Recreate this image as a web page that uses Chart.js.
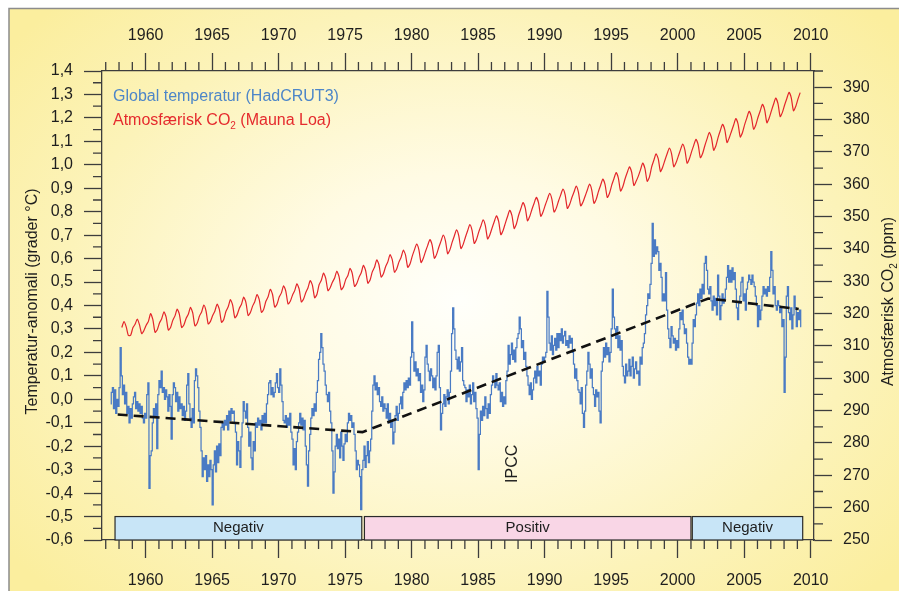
<!DOCTYPE html>
<html>
<head>
<meta charset="utf-8">
<title>Global temperatur og atmosfærisk CO2</title>
<script src="https://cdn.jsdelivr.net/npm/chart.js@4.4.1/dist/chart.umd.min.js"></script>
<style>
  html, body { margin: 0; padding: 0; background: #fff; }
  canvas { display: block; }
</style>
</head>
<body>
<canvas id="chart" width="899" height="591"></canvas>
<script>
// ---------------------------------------------------------------------------
// Data
// ---------------------------------------------------------------------------

// HadCRUT3 monthly anomaly (°C), one row per year, Jan..Dec
const TEMP_FIRST_YEAR = 1957;
const tempAnomaly = [
  [null, null, null, null, -0.02, 0.03, 0.05, -0.04, 0.04, -0.06, 0.00, -0.03], // 1957
  [0.05, 0.22, 0.10, 0.02, 0.06, -0.02, 0.03, -0.06, -0.03, -0.10, -0.04, -0.08],
  [-0.02, 0.01, 0.03, -0.04, -0.01, -0.05, -0.02, -0.06, -0.03, -0.08, -0.10, -0.06],
  [-0.08, 0.02, 0.07, -0.38, -0.24, -0.22, -0.10, -0.04, -0.07, -0.02, -0.21, 0.02], // 1960
  [0.08, 0.05, 0.12, 0.03, 0.05, 0.00, 0.04, 0.01, -0.05, 0.02, -0.03, -0.17],
  [0.02, 0.07, 0.05, -0.01, 0.03, -0.05, 0.01, -0.04, -0.02, -0.07, -0.03, -0.09],
  [-0.05, 0.06, 0.11, -0.02, -0.08, -0.12, -0.04, -0.10, 0.08, 0.13, 0.10, 0.05],
  [-0.05, -0.12, -0.22, -0.33, -0.25, -0.30, -0.24, -0.35, -0.28, -0.33, -0.26, -0.30],
  [-0.45, -0.28, -0.22, -0.31, -0.20, -0.27, -0.19, -0.24, -0.12, -0.10, -0.13, -0.09], // 1965
  [-0.11, -0.07, -0.13, -0.05, -0.09, -0.04, -0.06, -0.05, -0.10, -0.14, -0.28, -0.18],
  [-0.22, -0.29, -0.16, -0.10, -0.01, -0.05, -0.08, -0.02, -0.12, -0.20, -0.14, -0.25],
  [-0.30, -0.18, -0.22, -0.10, -0.12, -0.08, -0.11, -0.09, -0.13, -0.07, -0.10, -0.06],
  [-0.10, -0.02, 0.02, 0.07, 0.08, 0.02, 0.05, 0.01, 0.03, 0.07, 0.11, 0.05],
  [0.03, 0.13, 0.06, -0.01, -0.09, -0.10, -0.07, -0.12, -0.08, -0.11, -0.06, -0.14], // 1970
  [-0.17, -0.28, -0.21, -0.30, -0.18, -0.14, -0.10, -0.06, -0.11, -0.08, -0.13, -0.09],
  [-0.20, -0.28, -0.37, -0.22, -0.15, -0.08, -0.04, -0.07, -0.02, -0.05, 0.03, 0.08],
  [0.17, 0.20, 0.28, 0.22, 0.15, 0.12, 0.06, 0.02, -0.01, 0.03, -0.05, -0.10],
  [-0.22, -0.40, -0.31, -0.20, -0.15, -0.21, -0.17, -0.25, -0.14, -0.20, -0.26, -0.19],
  [-0.15, -0.18, -0.10, -0.06, -0.09, -0.07, -0.12, -0.10, -0.15, -0.22, -0.30, -0.26], // 1975
  [-0.28, -0.33, -0.47, -0.30, -0.26, -0.20, -0.29, -0.24, -0.18, -0.27, -0.22, -0.17],
  [-0.05, 0.06, 0.10, 0.04, 0.07, 0.02, 0.05, -0.01, -0.03, 0.01, -0.05, -0.02],
  [-0.04, -0.08, -0.02, -0.10, -0.06, -0.12, -0.09, -0.19, -0.14, -0.07, -0.03, -0.09],
  [-0.06, -0.02, 0.01, -0.04, 0.03, 0.07, 0.04, 0.08, 0.05, 0.09, 0.06, 0.18],
  [0.33, 0.20, 0.12, 0.16, 0.10, 0.13, 0.08, 0.11, 0.03, 0.06, -0.01, 0.04], // 1980
  [0.18, 0.23, 0.15, 0.12, 0.08, 0.13, 0.10, 0.05, 0.09, 0.04, 0.10, 0.20],
  [0.23, 0.05, -0.13, -0.06, -0.02, 0.02, -0.03, 0.01, 0.04, -0.02, 0.03, 0.12],
  [0.28, 0.39, 0.30, 0.21, 0.17, 0.13, 0.18, 0.12, 0.16, 0.22, 0.08, 0.06],
  [0.05, -0.01, 0.04, 0.01, 0.06, -0.02, 0.02, 0.07, -0.01, 0.03, -0.04, -0.08],
  [-0.30, -0.15, -0.05, -0.09, -0.03, -0.07, 0.01, -0.04, -0.08, -0.02, -0.06, 0.02], // 1985
  [0.06, 0.10, 0.08, 0.05, 0.11, 0.06, 0.04, 0.07, -0.01, 0.03, -0.03, 0.01],
  [-0.02, 0.08, 0.12, 0.23, 0.15, 0.19, 0.24, 0.17, 0.21, 0.16, 0.22, 0.26],
  [0.28, 0.35, 0.30, 0.22, 0.25, 0.17, 0.20, 0.14, 0.10, 0.06, 0.02, 0.07],
  [0.00, 0.04, 0.09, 0.12, 0.07, 0.14, 0.10, 0.12, 0.06, 0.15, 0.18, 0.16],
  [0.18, 0.20, 0.46, 0.35, 0.24, 0.21, 0.27, 0.19, 0.23, 0.26, 0.21, 0.28], // 1990
  [0.22, 0.28, 0.25, 0.30, 0.24, 0.27, 0.29, 0.23, 0.25, 0.22, 0.27, 0.24],
  [0.26, 0.20, 0.15, 0.09, 0.13, 0.08, 0.04, 0.03, -0.02, 0.05, -0.06, -0.12],
  [-0.05, 0.06, 0.12, 0.20, 0.15, 0.09, 0.13, 0.05, 0.02, -0.03, 0.04, 0.01],
  [0.03, -0.05, -0.10, 0.12, 0.16, 0.22, 0.18, 0.24, 0.19, 0.22, 0.16, 0.20],
  [0.30, 0.47, 0.35, 0.30, 0.26, 0.31, 0.22, 0.27, 0.21, 0.25, 0.14, 0.10], // 1995
  [0.07, 0.15, 0.10, 0.12, 0.17, 0.10, 0.14, 0.18, 0.09, 0.13, 0.16, 0.11],
  [0.12, 0.06, 0.18, 0.15, 0.22, 0.24, 0.28, 0.36, 0.40, 0.45, 0.43, 0.49],
  [0.58, 0.75, 0.61, 0.68, 0.62, 0.65, 0.63, 0.55, 0.58, 0.52, 0.42, 0.45],
  [0.42, 0.54, 0.38, 0.30, 0.26, 0.22, 0.31, 0.27, 0.24, 0.26, 0.21, 0.25],
  [0.22, 0.30, 0.37, 0.34, 0.38, 0.32, 0.28, 0.30, 0.24, 0.18, 0.15, 0.17], // 2000
  [0.15, 0.24, 0.34, 0.31, 0.36, 0.41, 0.45, 0.40, 0.47, 0.43, 0.49, 0.45],
  [0.58, 0.61, 0.55, 0.47, 0.45, 0.48, 0.42, 0.38, 0.44, 0.40, 0.43, 0.36],
  [0.53, 0.44, 0.34, 0.40, 0.45, 0.41, 0.43, 0.47, 0.52, 0.57, 0.50, 0.55],
  [0.50, 0.56, 0.51, 0.54, 0.47, 0.39, 0.34, 0.41, 0.44, 0.50, 0.52, 0.42],
  [0.45, 0.38, 0.47, 0.50, 0.53, 0.51, 0.49, 0.53, 0.50, 0.48, 0.44, 0.40], // 2005
  [0.31, 0.40, 0.34, 0.38, 0.44, 0.48, 0.45, 0.47, 0.44, 0.48, 0.46, 0.52],
  [0.63, 0.55, 0.45, 0.48, 0.40, 0.38, 0.42, 0.40, 0.37, 0.39, 0.31, 0.34],
  [0.03, 0.18, 0.44, 0.48, 0.37, 0.34, 0.39, 0.30, 0.36, 0.44, 0.39, 0.31],
  [0.37, 0.34, 0.38, 0.31, null, null, null, null, null, null, null, null]  // 2009
];

// Mauna Loa CO2 (ppm), one row per year, sampled in the months below
const CO2_FIRST_YEAR = 1958;
const co2Months = [1, 3, 5, 7, 9, 11];
const co2Ppm = [
  [null, 315.7, 317.5, 315.9, 313.2, 313.3], // 1958
  [315.6, 316.7, 318.3, 316.5, 313.8, 314.8],
  [316.4, 317.6, 320.0, 318.2, 314.2, 315.0], // 1960
  [317.1, 318.4, 320.5, 318.9, 314.9, 315.7],
  [317.9, 319.3, 321.4, 319.7, 315.7, 316.5],
  [318.5, 319.8, 321.9, 320.2, 316.2, 317.0],
  [319.2, 320.5, 322.6, 320.8, 316.8, 317.6],
  [319.4, 320.8, 322.9, 321.3, 317.3, 318.2], // 1965
  [320.7, 322.1, 324.3, 322.6, 318.7, 319.6],
  [321.6, 322.9, 325.1, 323.4, 319.4, 320.3],
  [322.3, 323.7, 325.9, 324.3, 320.4, 321.3],
  [323.8, 325.2, 327.5, 325.9, 322.0, 322.9],
  [325.1, 326.4, 328.6, 326.9, 323.0, 323.8], // 1970
  [325.7, 327.1, 329.2, 327.6, 323.6, 324.5],
  [326.5, 328.0, 330.2, 328.7, 324.9, 325.9],
  [328.9, 330.3, 332.5, 330.9, 327.1, 328.0],
  [329.7, 331.0, 333.1, 331.4, 327.4, 328.3],
  [330.5, 331.8, 334.0, 332.3, 328.4, 329.3], // 1975
  [331.2, 332.6, 334.9, 333.3, 329.4, 330.4],
  [332.9, 334.3, 336.6, 335.1, 331.3, 332.3],
  [334.5, 336.0, 338.2, 336.7, 332.8, 333.8],
  [335.9, 337.4, 339.6, 338.1, 334.3, 335.3],
  [337.7, 339.7, 341.5, 339.8, 335.8, 337.1], // 1980
  [339.2, 341.1, 342.9, 341.2, 337.1, 338.3],
  [340.5, 342.4, 344.3, 342.5, 338.5, 339.7],
  [342.0, 344.0, 345.9, 344.1, 340.1, 341.4],
  [343.6, 345.6, 347.5, 345.7, 341.7, 342.9],
  [345.2, 347.1, 349.0, 347.2, 343.1, 344.3], // 1985
  [346.4, 348.4, 350.2, 348.5, 344.4, 345.7],
  [347.9, 350.0, 351.9, 350.3, 346.3, 347.7],
  [350.4, 352.4, 354.3, 352.7, 348.7, 350.0],
  [352.2, 354.1, 355.9, 354.2, 350.1, 351.4],
  [353.5, 355.4, 357.2, 355.4, 351.4, 352.6], // 1990
  [354.8, 356.7, 358.5, 356.7, 352.5, 353.7],
  [355.8, 357.6, 359.4, 357.5, 353.3, 354.4],
  [356.3, 358.2, 360.0, 358.2, 354.1, 355.3],
  [357.7, 359.7, 361.6, 359.9, 355.9, 357.2],
  [359.7, 361.7, 363.6, 361.9, 357.9, 359.2], // 1995
  [361.6, 363.6, 365.4, 363.7, 359.6, 360.9],
  [362.5, 364.5, 366.5, 364.8, 360.9, 362.2],
  [365.3, 367.4, 369.4, 367.8, 363.9, 365.3],
  [367.4, 369.4, 371.2, 369.4, 365.4, 366.6],
  [368.6, 370.6, 372.4, 370.6, 366.5, 367.8], // 2000
  [370.0, 372.0, 373.9, 372.2, 368.2, 369.5],
  [371.9, 374.0, 376.0, 374.4, 370.5, 371.9],
  [374.5, 376.6, 378.5, 376.9, 372.9, 374.3],
  [376.3, 378.3, 380.3, 378.6, 374.6, 376.0],
  [378.5, 380.6, 382.5, 380.9, 377.0, 378.3], // 2005
  [380.7, 382.7, 384.7, 383.0, 379.0, 380.4],
  [382.6, 384.7, 386.6, 384.9, 380.9, 382.2],
  [384.5, 386.5, 388.4, 386.7, 382.7, 384.0],
  [386.3, 388.3, null, null, null, null]       // 2009
];

// dashed trend line (year, °C)
const trendYears = [1957.9, 1976.3, 2002.3, 2009.1];
const trendValues = [-0.065, -0.14, 0.43, 0.385];

// sign periods shown as bands along the bottom
const periodStart = [1957.7, 1976.45, 2001.1];
const periodEnd = [1976.25, 2001.0, 2009.4];
const periodLabels = ['Negativ', 'Positiv', 'Negativ'];

// vertical IPCC marker text (year, °C)
const ipccYear = 1987.6;
const ipccValue = -0.275;

// axis ranges
const YEAR_MIN = 1956.72, YEAR_MAX = 2010.25;
const TEMP_MIN = -0.6, TEMP_MAX = 1.4, TEMP_STEP = 0.05;
const CO2_MIN = 250, CO2_MAX = 395, CO2_STEP = 5;
const BAND_BOTTOM = -0.6, BAND_TOP = -0.5;

// ---------------------------------------------------------------------------
// Styling
// ---------------------------------------------------------------------------
const FONT = "'Liberation Sans', Arial, Helvetica, sans-serif";
const INK = '#1e1e1e';
const AXIS_INK = '#3d3d3d';
const TEMP_BLUE = '#4a7bc4';
const CO2_RED = '#e3262b';
const LEGEND_BLUE = '#4d86c8';
const LEGEND_RED = '#e52a2d';
const MAJOR_TICK = 18;
const MINOR_TICK = 9;
const PERIOD_FILL = { Negativ: '#c8e5f7', Positiv: '#f9d6e6' };

// ---------------------------------------------------------------------------
// Build the point lists
// ---------------------------------------------------------------------------
const tempPoints = [];
tempAnomaly.forEach((row, i) => row.forEach((v, m) => {
  if (v !== null) tempPoints.push({ x: TEMP_FIRST_YEAR + i + (m + 0.5) / 12, y: v });
}));

const co2Points = [];
co2Ppm.forEach((row, i) => row.forEach((v, k) => {
  if (v !== null) co2Points.push({ x: CO2_FIRST_YEAR + i + (co2Months[k] - 0.5) / 12, y: v });
}));

const trendPoints = trendYears.map((x, i) => ({ x, y: trendValues[i] }));

// ---------------------------------------------------------------------------
// Axes: Chart.js draws the border, labels and major ticks; minors via plugin
// ---------------------------------------------------------------------------
const isMajorYear = v => Math.round(v) % 5 === 0;
const isMajorTemp = v => Math.abs(v * 10 - Math.round(v * 10)) < 1e-6;
const isMajorCo2 = v => Math.round(v) % 10 === 0;

function axis(position, range, step, majorTest, fmt, size, pad) {
  const horizontal = position === 'top' || position === 'bottom';
  return {
    type: 'linear',
    position,
    min: range[0],
    max: range[1],
    bounds: 'ticks',
    afterFit(s) { if (horizontal) s.height = size; else s.width = size; },
    border: { display: true, color: AXIS_INK, width: 1.3 },
    grid: {
      drawOnChartArea: false,
      drawTicks: true,
      tickLength: MAJOR_TICK,
      tickWidth: 1.3,
      tickColor: c => (c.tick && majorTest(c.tick.value)) ? AXIS_INK : 'rgba(0,0,0,0)'
    },
    ticks: {
      stepSize: step,
      includeBounds: false,
      autoSkip: false,
      maxRotation: 0,
      minRotation: 0,
      padding: pad,
      color: INK,
      font: { family: FONT, size: 16 },
      callback: v => majorTest(v) ? fmt(v) : ''
    }
  };
}

const fmtTemp = v => v.toFixed(1).replace('.', ',');

const minorTicks = {
  id: 'minorTicks',
  afterDraw(chart) {
    const { ctx } = chart;
    const tests = { x: isMajorYear, x2: isMajorYear, y: isMajorTemp, y2: isMajorCo2 };
    ctx.save();
    ctx.strokeStyle = AXIS_INK;
    ctx.lineWidth = 1.3;
    ctx.beginPath();
    Object.keys(tests).forEach(id => {
      const s = chart.scales[id];
      s.ticks.forEach(t => {
        if (tests[id](t.value)) return;
        const p = s.getPixelForValue(t.value);
        if (s.position === 'bottom') { ctx.moveTo(p, s.top); ctx.lineTo(p, s.top + MINOR_TICK); }
        else if (s.position === 'top') { ctx.moveTo(p, s.bottom); ctx.lineTo(p, s.bottom - MINOR_TICK); }
        else if (s.position === 'left') { ctx.moveTo(s.right, p); ctx.lineTo(s.right - MINOR_TICK, p); }
        else { ctx.moveTo(s.left, p); ctx.lineTo(s.left + MINOR_TICK, p); }
      });
    });
    ctx.stroke();
    ctx.restore();
  }
};

// yellow backdrop with a pale glow in the middle, plus the grey frame
const backdrop = {
  id: 'backdrop',
  beforeDraw(chart) {
    const { ctx, width, height } = chart;
    ctx.save();
    ctx.fillStyle = '#ffffff';
    ctx.fillRect(0, 0, width, height);
    ctx.translate(460, 300);
    ctx.scale(1.35, 1);
    const g = ctx.createRadialGradient(0, 0, 0, 0, 0, 420);
    g.addColorStop(0, '#fffffb');
    g.addColorStop(0.3, '#fffbe4');
    g.addColorStop(0.7, '#fcf3b9');
    g.addColorStop(1, '#fbee9e');
    ctx.fillStyle = g;
    ctx.fillRect((9 - 460) / 1.35, 8 - 300, (width - 9) / 1.35, height - 8);
    ctx.restore();

    ctx.save();
    ctx.strokeStyle = '#8c8c8c';
    ctx.lineWidth = 1.5;
    ctx.beginPath();
    ctx.moveTo(9, height); ctx.lineTo(9, 8.5); ctx.lineTo(width, 8.5);
    ctx.stroke();
    ctx.restore();
  }
};

// draws text pieces on one baseline, some of them as a lowered subscript
function richText(ctx, parts, x, y, align) {
  let total = 0;
  parts.forEach(p => {
    ctx.font = p.sub ? `10px ${FONT}` : `16px ${FONT}`;
    p.w = ctx.measureText(p.text).width;
    total += p.w;
  });
  let cx = align === 'center' ? x - total / 2 : x;
  parts.forEach(p => {
    ctx.font = p.sub ? `10px ${FONT}` : `16px ${FONT}`;
    ctx.fillText(p.text, cx, y + (p.sub ? 4 : 0));
    cx += p.w;
  });
}

const annotations = {
  id: 'annotations',
  beforeDatasetsDraw(chart) {
    const { ctx } = chart;
    const xs = chart.scales.x, ys = chart.scales.y;
    const top = ys.getPixelForValue(BAND_TOP), bottom = ys.getPixelForValue(BAND_BOTTOM);
    ctx.save();
    periodStart.forEach((start, i) => {
      const x0 = xs.getPixelForValue(start), x1 = xs.getPixelForValue(periodEnd[i]);
      ctx.fillStyle = PERIOD_FILL[periodLabels[i]];
      ctx.fillRect(x0, top, x1 - x0, bottom - top);
      ctx.strokeStyle = '#2a2a2a';
      ctx.lineWidth = 1.2;
      ctx.strokeRect(x0, top, x1 - x0, bottom - top);
      ctx.fillStyle = INK;
      ctx.font = `15px ${FONT}`;
      ctx.textAlign = 'center';
      ctx.textBaseline = 'middle';
      ctx.fillText(periodLabels[i], (x0 + x1) / 2, (top + bottom) / 2);
    });
    ctx.restore();
  },
  afterDraw(chart) {
    const { ctx, chartArea } = chart;
    const xs = chart.scales.x, ys = chart.scales.y;
    ctx.save();
    ctx.textAlign = 'left';
    ctx.textBaseline = 'alphabetic';

    // legend
    ctx.fillStyle = LEGEND_BLUE;
    richText(ctx, [{ text: 'Global temperatur (HadCRUT3)' }], chartArea.left + 11, chartArea.top + 30, 'left');
    ctx.fillStyle = LEGEND_RED;
    richText(ctx, [{ text: 'Atmosfærisk CO' }, { text: '2', sub: true }, { text: ' (Mauna Loa)' }],
      chartArea.left + 11, chartArea.top + 54, 'left');

    // IPCC marker
    ctx.save();
    ctx.translate(xs.getPixelForValue(ipccYear), ys.getPixelForValue(ipccValue));
    ctx.rotate(-Math.PI / 2);
    ctx.fillStyle = INK;
    ctx.font = `16px ${FONT}`;
    ctx.textAlign = 'center';
    ctx.textBaseline = 'middle';
    ctx.fillText('IPCC', 0, 0);
    ctx.restore();

    // axis titles (both read bottom-to-top)
    const midY = (chartArea.top + chartArea.bottom) / 2 - 4;
    ctx.fillStyle = INK;
    ctx.save();
    ctx.translate(36.5, midY);
    ctx.rotate(-Math.PI / 2);
    richText(ctx, [{ text: 'Temperatur-anomali (grader °C)' }], 0, 0, 'center');
    ctx.restore();

    ctx.save();
    ctx.translate(chartArea.right + 79, midY);
    ctx.rotate(-Math.PI / 2);
    richText(ctx, [{ text: 'Atmosfærisk CO' }, { text: '2', sub: true }, { text: ' (ppm)' }], 0, 0, 'center');
    ctx.restore();

    ctx.restore();
  }
};

// ---------------------------------------------------------------------------
// Chart
// ---------------------------------------------------------------------------
new Chart(document.getElementById('chart'), {
  type: 'line',
  data: {
    datasets: [
      {
        label: 'Trend',
        data: trendPoints,
        xAxisID: 'x',
        yAxisID: 'y',
        borderColor: '#111111',
        borderWidth: 2.6,
        borderDash: [10, 6],
        pointRadius: 0,
        order: 0
      },
      {
        label: 'Global temperatur (HadCRUT3)',
        data: tempPoints,
        xAxisID: 'x',
        yAxisID: 'y',
        borderColor: TEMP_BLUE,
        borderWidth: 1.25,
        stepped: 'middle',
        pointRadius: 0,
        order: 1
      },
      {
        label: 'Atmosfærisk CO2 (Mauna Loa)',
        data: co2Points,
        xAxisID: 'x',
        yAxisID: 'y2',
        borderColor: CO2_RED,
        borderWidth: 1.2,
        tension: 0.22,
        pointRadius: 0,
        order: 2
      }
    ]
  },
  options: {
    responsive: false,
    devicePixelRatio: 1,
    animation: false,
    events: [],
    layout: { padding: 0 },
    plugins: { legend: { display: false }, tooltip: { enabled: false } },
    scales: {
      x: axis('bottom', [YEAR_MIN, YEAR_MAX], 1, isMajorYear, String, 51, 13),
      x2: axis('top', [YEAR_MIN, YEAR_MAX], 1, isMajorYear, String, 71, 8),
      y: axis('left', [TEMP_MIN, TEMP_MAX], TEMP_STEP, isMajorTemp, fmtTemp, 102, 11),
      y2: axis('right', [CO2_MIN, CO2_MAX], CO2_STEP, isMajorCo2, String, 85, 11)
    }
  },
  plugins: [backdrop, minorTicks, annotations]
});
</script>
</body>
</html>
